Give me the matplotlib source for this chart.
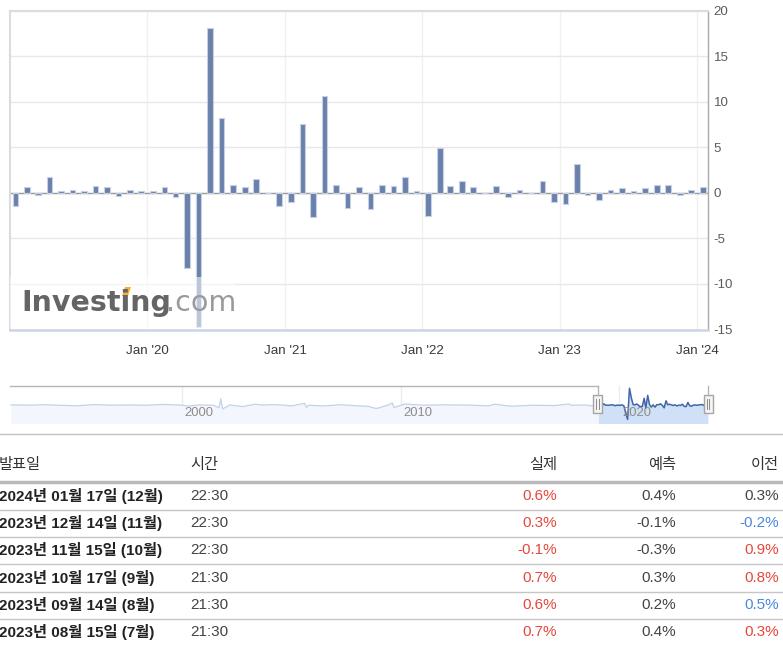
import matplotlib
matplotlib.use("Agg")
import matplotlib.pyplot as plt
from matplotlib.patches import Rectangle, Polygon
import pandas as pd

W, H = 783, 649

# US retail sales m/m (%), one bar per monthly release, Jan 2019 .. Jan 2024
release_months = pd.date_range("2019-01-01", "2024-01-01", freq="MS")
retail_mom = [
    -1.5, 0.6, -0.2, 1.7, 0.2, 0.3, 0.2, 0.7, 0.6, -0.3, 0.3, 0.2,
    0.2, 0.6, -0.5, -8.2, -14.7, 18.1, 8.2, 0.9, 0.6, 1.5, 0.0, -1.4,
    -1.0, 7.6, -2.7, 10.6, 0.9, -1.7, 0.6, -1.8, 0.9, 0.7, 1.7, 0.2,
    -2.5, 4.9, 0.7, 1.3, 0.6, 0.0, 0.7, -0.5, 0.3, 0.0, 1.3, -1.0,
    -1.2, 3.2, -0.2, -0.8, 0.3, 0.5, 0.2, 0.5, 0.8, 0.9, -0.2, 0.3,
    0.6,
]

# rough history shown in the navigator strip
nav_hist_months = [
    "1992-03", "1993-01", "1993-09", "1994-06", "1995-03", "1996-01", "1996-10",
    "1997-08", "1998-05", "1999-03", "1999-12", "2000-04", "2000-10", "2001-06",
    "2001-09", "2001-10", "2001-11", "2002-03", "2002-10", "2003-05", "2003-09",
    "2004-04", "2005-01", "2005-08", "2005-09", "2005-10", "2006-06", "2007-04",
    "2008-01", "2008-07", "2008-10", "2008-12", "2009-06", "2009-08", "2009-09",
    "2010-03", "2011-01", "2012-01", "2013-01", "2014-01", "2014-04", "2015-01",
    "2016-01", "2017-01", "2017-09", "2017-10", "2018-06", "2018-12",
]
nav_hist_vals = [
    0.6, 0.3, 0.8, 0.2, -0.4, 0.9, 0.3, 0.5, 0.2, 1.1, 0.4, -0.6, 0.5, 0.2,
    -2.4, 7.1, -3.7, 0.5, -1.2, 1.3, 0.4, 0.9, -0.4, 2.2, -2.0, 0.2, -0.5, 0.7,
    -0.4, -0.9, -2.8, -3.0, 0.6, 2.7, -2.2, 1.5, 0.3, 0.6, 0.4, -0.4, 1.3, -0.8,
    0.2, -0.1, 1.6, 0.2, 0.5, -1.2,
]
nav_years = ["2000", "2010", "2020"]

year_ticks = pd.to_datetime(["2020-01-01", "2021-01-01", "2022-01-01", "2023-01-01", "2024-01-01"])
year_labels = ["Jan '20", "Jan '21", "Jan '22", "Jan '23", "Jan '24"]
y_ticks = [-15, -10, -5, 0, 5, 10, 15, 20]

# release table
tbl_header = ["발표일", "시간", "실제", "예측", "이전"]
tbl_dates = ["2024년 01월 17일 (12월)", "2023년 12월 14일 (11월)", "2023년 11월 15일 (10월)",
             "2023년 10월 17일 (9월)", "2023년 09월 14일 (8월)", "2023년 08월 15일 (7월)"]
tbl_times = ["22:30", "22:30", "22:30", "21:30", "21:30", "21:30"]
tbl_actual = ["0.6%", "0.3%", "-0.1%", "0.7%", "0.6%", "0.7%"]
tbl_forecast = ["0.4%", "-0.1%", "-0.3%", "0.3%", "0.2%", "0.4%"]
tbl_previous = ["0.3%", "-0.2%", "0.9%", "0.8%", "0.5%", "0.3%"]
prev_revision = [0, -1, 1, 1, -1, 1]  # revised up / down vs. first print

plt.rcParams["font.family"] = ["Liberation Sans", "Noto Sans CJK KR", "DejaVu Sans"]

RED, BLUE, DARK = "#e5473b", "#4a88e0", "#333333"


def px_rect(x0, y0, x1, y1):
    return [x0 / W, 1 - y1 / H, (x1 - x0) / W, (y1 - y0) / H]


fig = plt.figure(figsize=(W / 100, H / 100), dpi=100)

# ---- main bar chart
ax = fig.add_axes(px_rect(10, 10.5, 708, 329.5))
bar_x = release_months + pd.Timedelta(days=15)
ax.bar(bar_x, retail_mom, width=15, color="#6a81ab", edgecolor="#c8d1e4",
       linewidth=0.8, zorder=3)
ax.axhline(0, color="#9d9d9d", lw=1, zorder=2)
ax.set_xlim(pd.Timestamp("2019-01-01"), pd.Timestamp("2024-01-30"))
ax.set_ylim(-15, 20)
ax.set_yticks(y_ticks)
ax.set_yticklabels([str(v) for v in y_ticks])
ax.set_xticks(year_ticks)
ax.set_xticklabels(year_labels)
ax.yaxis.tick_right()
ax.tick_params(axis="y", length=0, pad=4, labelsize=9.6, labelcolor="#5c5c5c")
ax.tick_params(axis="x", length=0, pad=11, labelsize=9.6, labelcolor="#3a3a3a")
ax.grid(axis="y", color="#e8e8e8", lw=1, zorder=0)
ax.grid(axis="x", color="#f0f0f0", lw=1, zorder=0)
for side in ("top", "left"):
    ax.spines[side].set_color("#dcdcdc")
    ax.spines[side].set_linewidth(1.5)
ax.spines["bottom"].set_color("#ccd5e6")
ax.spines["bottom"].set_linewidth(1.8)
ax.spines["right"].set_color("#a9a9a9")
ax.spines["right"].set_linewidth(1)

# ---- navigator strip
nav = fig.add_axes(px_rect(10, 385.5, 708, 423.5))
nav.set_xlim(pd.Timestamp("1992-03-01"), pd.Timestamp("2024-01-17"))
nav.set_ylim(-19, 21)
nav.axis("off")
hist_x = pd.to_datetime(nav_hist_months) + pd.Timedelta(days=15)
hist_x = list(hist_x) + [bar_x[0]]
hist_v = nav_hist_vals + [retail_mom[0]]
for yr in nav_years:
    d = pd.Timestamp(yr + "-01-01")
    nav.axvline(d, color="#ececec", lw=1, zorder=0)
    nav.annotate(yr, xy=(d, 0), xycoords=("data", "axes fraction"),
                 xytext=(3, 10), textcoords="offset pixels",
                 ha="left", va="center", fontsize=9.4, color="#8c8c8c", zorder=5)
nav.fill_between(hist_x, hist_v, -19, color="#f3f6fc", lw=0, zorder=1)
nav.plot(hist_x, hist_v, color="#c4d1e8", lw=0.9, zorder=2)
nav.fill_between(bar_x, retail_mom, -19, color="#d0e0f7", lw=0, zorder=1)
nav.plot(bar_x, retail_mom, color="#3f65a6", lw=1.1, zorder=3)

# ---- overlay in pixel coordinates: watermark, navigator frame, table
ov = fig.add_axes([0, 0, 1, 1], zorder=5)
ov.set_xlim(0, W)
ov.set_ylim(H, 0)
ov.axis("off")
ov.patch.set_visible(False)

ov.add_patch(Rectangle((10, 277), 225, 52, facecolor="white", alpha=0.55, lw=0))
ov.text(21, 311, "Investing", fontsize=20.5, fontweight="bold", color="#656565",
        family="DejaVu Sans", va="baseline", ha="left")
ov.text(166, 311, ".com", fontsize=20.5, color="#9a9a9a",
        family="DejaVu Sans", va="baseline", ha="left")
ov.add_patch(Polygon([[122, 296], [125, 287], [131, 287], [128, 296]],
                     closed=True, facecolor="#f2b233", lw=0))

ov.plot([10, 597.5], [385.5, 385.5], color="#b5b5b5", lw=1)
for hx in (597.5, 708):
    ov.plot([hx, hx], [385.5, 395], color="#b5b5b5", lw=1)
    ov.add_patch(Rectangle((hx - 4.5, 395), 9, 18, facecolor="#f4f4f4",
                           edgecolor="#a5a5a5", lw=1))
    for dx in (-1.3, 1.3):
        ov.plot([hx + dx, hx + dx], [399, 409], color="#8a8a8a", lw=0.7)

ov.plot([0, W], [434, 434], color="#c2c2c2", lw=1)

hdr_y = 465
fs = 11
ov.text(-1, hdr_y, tbl_header[0], fontsize=fs, color=DARK, va="center", ha="left")
ov.text(190, hdr_y, tbl_header[1], fontsize=fs, color=DARK, va="center", ha="left")
ov.text(557, hdr_y, tbl_header[2], fontsize=fs, color=DARK, va="center", ha="right")
ov.text(676, hdr_y, tbl_header[3], fontsize=fs, color=DARK, va="center", ha="right")
ov.text(779, hdr_y, tbl_header[4], fontsize=fs, color=DARK, va="center", ha="right")
ov.plot([0, W], [482, 482], color="#b9b9b9", lw=2.5)

row_h = 27.2
for i, (d, t, a, f, p) in enumerate(zip(tbl_dates, tbl_times, tbl_actual,
                                         tbl_forecast, tbl_previous)):
    y = 496 + i * row_h
    ov.text(-1, y, d, fontsize=fs, fontweight="bold", color="#222222", va="center", ha="left")
    ov.text(190, y, t, fontsize=fs, color="#444444", va="center", ha="left")
    ov.text(557, y, a, fontsize=fs, color=RED, va="center", ha="right")
    ov.text(676, y, f, fontsize=fs, color="#444444", va="center", ha="right")
    pc = {0: "#444444", 1: RED, -1: BLUE}[prev_revision[i]]
    ov.text(779, y, p, fontsize=fs, color=pc, va="center", ha="right")
    if i < len(tbl_dates) - 1:
        ov.plot([0, W], [y + 14, y + 14], color="#c6c6c6", lw=1)

fig.savefig("out.png", dpi=100)
